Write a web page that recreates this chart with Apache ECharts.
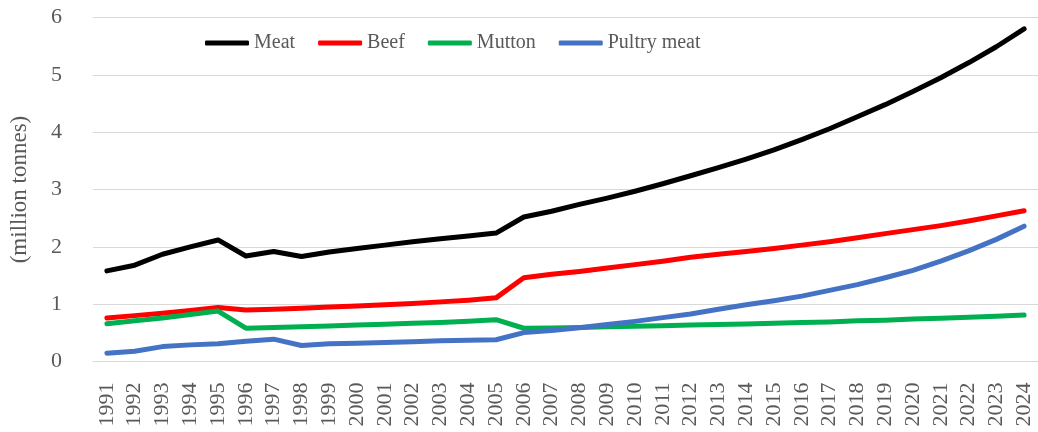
<!DOCTYPE html>
<html>
<head>
<meta charset="utf-8">
<script src="https://cdn.jsdelivr.net/npm/echarts@6/dist/echarts.min.js"></script>
<style>
html,body{margin:0;padding:0;background:#fff;}
#chart{width:1038px;height:432px;}
</style>
</head>
<body>
<div id="chart"></div>
<script>
const years = ['1991','1992','1993','1994','1995','1996','1997','1998','1999','2000','2001','2002','2003','2004','2005','2006','2007','2008','2009','2010','2011','2012','2013','2014','2015','2016','2017','2018','2019','2020','2021','2022','2023','2024'];
const meat = [1.58,1.68,1.87,2.00,2.12,1.84,1.92,1.83,1.91,1.97,2.03,2.09,2.14,2.19,2.24,2.52,2.62,2.74,2.85,2.97,3.10,3.24,3.38,3.53,3.69,3.87,4.06,4.27,4.48,4.71,4.95,5.21,5.49,5.80];
const beef = [0.76,0.80,0.84,0.89,0.94,0.90,0.91,0.93,0.95,0.97,0.99,1.01,1.04,1.07,1.11,1.46,1.52,1.57,1.63,1.69,1.75,1.82,1.87,1.92,1.97,2.03,2.09,2.16,2.23,2.30,2.37,2.45,2.54,2.63];
const mutton = [0.66,0.71,0.76,0.82,0.88,0.58,0.595,0.605,0.62,0.635,0.65,0.665,0.68,0.70,0.73,0.58,0.585,0.595,0.605,0.615,0.625,0.635,0.645,0.655,0.665,0.68,0.69,0.71,0.72,0.74,0.755,0.77,0.79,0.81];
const poultry = [0.145,0.18,0.26,0.29,0.31,0.355,0.39,0.28,0.31,0.32,0.33,0.345,0.36,0.37,0.38,0.505,0.54,0.59,0.645,0.70,0.765,0.83,0.91,0.99,1.06,1.14,1.24,1.34,1.46,1.59,1.75,1.93,2.13,2.36];
const seriesNames = ['Meat','Beef','Mutton','Pultry meat'];
const yAxisName = '(million tonnes)';

const FONT = 'Liberation Serif';
const colors = ['#000000','#ff0000','#00b050','#4472c4'];
const dataSets = [meat, beef, mutton, poultry];

const chart = echarts.init(document.getElementById('chart'), null, {renderer:'canvas'});
chart.setOption({
  animation:false,
  backgroundColor:'#ffffff',
  color: colors,
  legend:{
    left:205, top:33,
    padding:0,
    icon:'roundRect',
    itemWidth:44, itemHeight:5,
    itemGap:23,
    textStyle:{fontFamily:FONT, fontSize:20, color:'#595959'},
    data: seriesNames
  },
  grid:{left:86, top:17.5, width:956, height:344},
  xAxis:{
    type:'category',
    data:years,
    boundaryGap:true,
    axisLine:{show:true, lineStyle:{color:'#d9d9d9', width:1}},
    axisTick:{show:false},
    axisLabel:{rotate:90, margin:21, interval:0, fontFamily:FONT, fontSize:22, color:'#595959'}
  },
  yAxis:{
    type:'value',
    min:0, max:6, interval:1,
    name: yAxisName,
    nameLocation:'middle',
    nameRotate:90,
    nameGap:62,
    nameTextStyle:{fontFamily:FONT, fontSize:23, color:'#595959'},
    axisLine:{show:false},
    axisTick:{show:false},
    axisLabel:{margin:31, fontFamily:FONT, fontSize:22, color:'#595959'},
    splitLine:{show:true, lineStyle:{color:'#d9d9d9', width:1}}
  },
  series: seriesNames.map((n,i)=>({
    name:n, type:'line', data:dataSets[i],
    symbol:'none', showSymbol:false,
    lineStyle:{width:5, color:colors[i], cap:'round', join:'round'},
    itemStyle:{color:colors[i]}
  }))
});
</script>
</body>
</html>
